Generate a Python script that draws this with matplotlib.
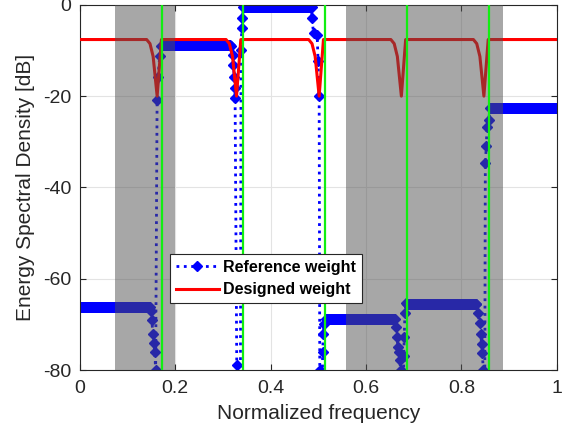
import numpy as np
import matplotlib
matplotlib.use('Agg')
import matplotlib.pyplot as plt

plt.rcParams['font.family'] = ['Liberation Sans', 'DejaVu Sans']
plt.rcParams['axes.unicode_minus'] = False

# Reference weight: flat bands (start, end, level in dB)
ref_band_start = [0.0, 0.175, 0.343, 0.517, 0.686, 0.860]
ref_band_end = [0.147, 0.315, 0.486, 0.660, 0.832, 1.0]
ref_band_level = [-66.1, -8.9, -0.4, -68.8, -65.6, -22.7]
ref_band_step = 0.0012

# Reference weight: points read off the transitions between bands
# (values below -80 dB fall outside the axes)
trans_f = [
    [0.149, 0.151, 0.153, 0.155, 0.157, 0.159, 0.162, 0.164, 0.1675, 0.171],
    [0.317, 0.3205, 0.322, 0.3235, 0.325, 0.3255, 0.329, 0.336, 0.338, 0.3395, 0.341],
    [0.4864, 0.490, 0.4975, 0.4995, 0.5017, 0.503, 0.506, 0.509, 0.5105, 0.512],
    [0.662, 0.6645, 0.667, 0.669, 0.6705, 0.6725, 0.676, 0.679, 0.680, 0.6815, 0.6835],
    [0.835, 0.838, 0.8405, 0.842, 0.844, 0.8455, 0.848, 0.850, 0.852, 0.8535, 0.857],
]
trans_db = [
    [-67.0, -69.0, -72.0, -74.0, -76.0, -80.0, -20.8, -15.7, -11.3, -9.1],
    [-9.1, -11.0, -13.2, -15.7, -18.3, -20.5, -79.0, -120.0, -9.9, -5.1, -2.9],
    [-2.9, -6.2, -6.6, -12.4, -20.0, -80.0, -120.0, -76.0, -72.0, -70.0],
    [-70.5, -72.7, -74.9, -76.0, -77.8, -80.0, -120.0, -77.0, -72.7, -67.6, -65.4],
    [-67.6, -69.8, -72.0, -74.2, -76.3, -80.0, -120.0, -34.7, -31.0, -26.7, -25.2],
]

# Designed weight: flat level with notches
des_level = -7.6
notch_f = [0.1621, 0.3285, 0.5017, 0.6740, 0.8470]
notch_shape_df = [-0.022, -0.015, -0.0084, 0.0, 0.009]
notch_shape_db = [-7.6, -8.5, -11.3, -20.0, -7.6]

# Band edges (green) and transition regions (grey)
edge_f = [0.1714, 0.3429, 0.5143, 0.6857, 0.8571]
shade_start = [0.073, 0.558]
shade_end = [0.200, 0.886]

# assemble the reference series
ref_f, ref_db = [], []
for i in range(len(ref_band_start)):
    band = np.arange(ref_band_start[i], ref_band_end[i] + 1e-9, ref_band_step)
    ref_f.extend(band)
    ref_db.extend([ref_band_level[i]] * len(band))
    if i < len(trans_f):
        ref_f.extend(trans_f[i])
        ref_db.extend(trans_db[i])

# assemble the designed series
des_f, des_db = [0.0], [des_level]
for nf in notch_f:
    des_f.extend([nf + d for d in notch_shape_df])
    des_db.extend(notch_shape_db)
des_f.append(1.0)
des_db.append(des_level)

fig = plt.figure(figsize=(5.7, 4.4), dpi=100)
ax = fig.add_axes([0.140, 0.159, 0.837, 0.830])

ax.plot(ref_f, ref_db, color='#0000ff', linestyle=':', linewidth=2,
        marker='D', markersize=4.8, zorder=2, label='Reference weight')
ax.plot(des_f, des_db, color='#ff0000', linewidth=2.2, zorder=3,
        label='Designed weight')

for s, e in zip(shade_start, shade_end):
    ax.axvspan(s, e, facecolor='#505050', alpha=0.5, edgecolor='none', zorder=4)
for f in edge_f:
    ax.axvline(f, color='#11ee11', linewidth=1.6, zorder=5)

ax.set_xlim(0, 1)
ax.set_ylim(-80, 0)
ax.set_xticks([0, 0.2, 0.4, 0.6, 0.8, 1.0])
ax.set_xticklabels(['0', '0.2', '0.4', '0.6', '0.8', '1'])
ax.set_yticks([-80, -60, -40, -20, 0])
ax.grid(True, color='#e3e3e3', linewidth=0.8)
ax.set_axisbelow(True)
ax.tick_params(direction='in', top=True, right=True, labelsize=14,
               colors='#262626', length=4)
ax.tick_params(axis='x', pad=7)
ax.tick_params(axis='y', pad=6)
for sp in ax.spines.values():
    sp.set_color('#262626')
    sp.set_linewidth(0.8)

ax.set_xlabel('Normalized frequency', fontsize=15, color='#262626', labelpad=5)
ax.set_ylabel('Energy Spectral Density [dB]', fontsize=15, color='#262626',
              labelpad=6)

leg = ax.legend(loc='lower left', bbox_to_anchor=(0.189, 0.184),
                borderaxespad=0, fancybox=False, framealpha=1,
                edgecolor='#262626', prop={'weight': 'bold', 'size': 11.5},
                handlelength=2.7, handletextpad=0.3, borderpad=0.35,
                labelspacing=0.45)
leg.get_frame().set_linewidth(0.8)
leg.set_zorder(10)

fig.savefig('out.png', dpi=100)
